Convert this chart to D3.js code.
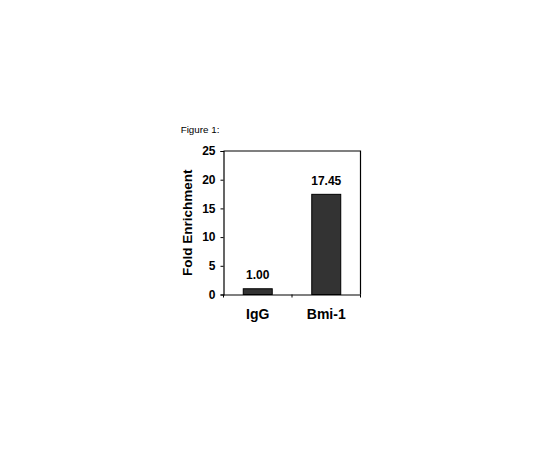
<!DOCTYPE html>
<html>
<head>
<meta charset="utf-8">
<script src="https://cdn.jsdelivr.net/npm/d3@7/dist/d3.min.js"></script>
<style>
  html, body { margin: 0; padding: 0; background: #fff; }
  svg { display: block; }
  text { font-family: Arial, "Liberation Sans", sans-serif; fill: #000; }
</style>
</head>
<body>
<svg id="chart" width="540" height="450"></svg>
<script>
const categories = ["IgG", "Bmi-1"];
const values = [1.00, 17.45];
const valueLabels = ["1.00", "17.45"];
const yTicks = [0, 5, 10, 15, 20, 25];
const yTitle = "Fold Enrichment";
const figTitle = "Figure 1:";

const svg = d3.select("#chart");
const plotLeft = 223.5, plotRight = 360.5, plotTop = 151, plotBottom = 294.5;

const x = d3.scaleBand().domain(categories).range([plotLeft, plotRight])
  .paddingInner(0.577).paddingOuter(0.2885);
const y = d3.scaleLinear().domain([0, 25]).range([plotBottom, plotTop]);

// frame (top and right)
svg.append("path")
  .attr("d", `M${plotLeft},${plotTop}H${plotRight}V${plotBottom}`)
  .attr("fill", "none").attr("stroke", "#000").attr("stroke-width", 1.2);

// y axis
const yAxis = svg.append("g").attr("transform", `translate(${plotLeft},0)`)
  .call(d3.axisLeft(y).tickValues(yTicks).tickSize(3).tickPadding(5).tickFormat(d3.format("d")));
yAxis.select(".domain").attr("stroke-width", 1.2);
yAxis.selectAll("text").style("font-size", "12px").style("font-weight", "bold")
  .style("font-family", "Arial, 'Liberation Sans', sans-serif");

// x axis
const xAxis = svg.append("g").attr("transform", `translate(0,${plotBottom})`)
  .call(d3.axisBottom(x).tickSize(0).tickFormat(""));
xAxis.select(".domain").attr("stroke-width", 1.2);
const bounds = [plotLeft, (x(categories[0]) + x.bandwidth() + x(categories[1])) / 2, plotRight];
xAxis.selectAll("line.bt").data(bounds).enter().append("line")
  .attr("class", "bt").attr("x1", d => d).attr("x2", d => d)
  .attr("y1", 0).attr("y2", 3).attr("stroke", "#000");

// category labels
svg.selectAll("text.cat").data(categories).enter().append("text")
  .attr("class", "cat")
  .attr("x", d => x(d) + x.bandwidth() / 2)
  .attr("y", 319.3)
  .attr("text-anchor", "middle")
  .style("font-size", "14px").style("font-weight", "bold")
  .text(d => d);

// bars
svg.selectAll("rect.bar").data(values).enter().append("rect")
  .attr("class", "bar")
  .attr("x", (d, i) => x(categories[i]))
  .attr("width", x.bandwidth())
  .attr("y", d => y(d))
  .attr("height", d => y(0) - y(d))
  .attr("fill", "#333")
  .attr("stroke", "#000").attr("stroke-width", 1);

// value labels
svg.selectAll("text.val").data(values).enter().append("text")
  .attr("class", "val")
  .attr("x", (d, i) => x(categories[i]) + x.bandwidth() / 2)
  .attr("y", d => y(d) - 9.5)
  .attr("text-anchor", "middle")
  .style("font-size", "12px").style("font-weight", "bold")
  .text((d, i) => valueLabels[i]);

// y title
svg.append("text")
  .attr("transform", `translate(192.3,${(plotTop + plotBottom) / 2}) rotate(-90)`)
  .attr("text-anchor", "middle")
  .style("font-size", "13.5px").style("font-weight", "bold")
  .text(yTitle);

// figure title
svg.append("text")
  .attr("x", 180.7).attr("y", 133)
  .style("font-size", "9.8px")
  .text(figTitle);
</script>
</body>
</html>
